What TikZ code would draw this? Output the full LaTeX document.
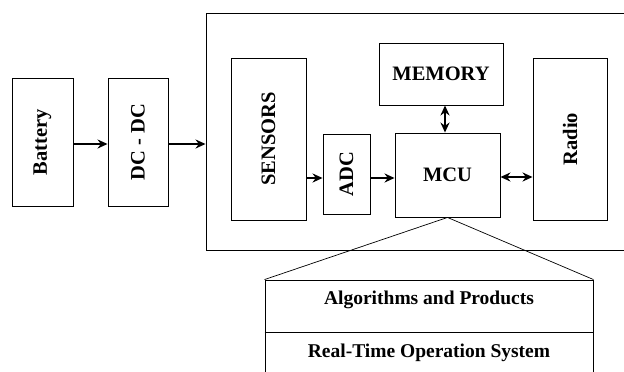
\documentclass[tikz,border=0pt]{standalone}
\usepackage{fontspec}
\setmainfont{Liberation Serif}
\usetikzlibrary{arrows.meta,positioning}
\begin{document}
\begin{tikzpicture}[x=1pt,y=-1pt,
  blk/.style={draw,line width=0.9pt,inner sep=0pt,font=\fontsize{20.5}{24}\selectfont\bfseries},
  vblk/.style={blk,rotate=90},
  tip/.tip={Stealth[length=10pt,width=9pt]},
  flow/.style={line width=2.3pt,-tip},
  bidir/.style={line width=2.3pt,tip-tip},
  lbl/.style={inner sep=0pt,font=\fontsize{19.5}{22}\selectfont\bfseries}]
\useasboundingbox (0,0) rectangle (624,372);
\clip (0,0) rectangle (624,372);
% power chain
\node[vblk,minimum width=128pt,minimum height=61pt] (bat) at (42.5,142) {Battery};
\node[vblk,minimum width=128pt,minimum height=60pt] (dc) at (138,142) {DC - DC};
% sensor node board (right side runs past the page)
\node[draw,line width=0.9pt,inner sep=0pt,minimum width=424pt,minimum height=237pt] (board) at (418,131.5) {};
% blocks on the board (rotated nodes: south = right side, north = left side)
\node[vblk,minimum width=162pt,minimum height=75pt] (sens) at (268.5,139) {SENSORS};
\node[vblk,minimum width=80pt,minimum height=47pt] (adc) at (346.5,174) {ADC};
\node[blk,minimum width=105pt,minimum height=84pt] (mcu) at (447.5,175) {MCU};
\node[blk,minimum width=124pt,minimum height=62pt] (mem) at (441,74) {MEMORY};
\node[vblk,minimum width=162pt,minimum height=74pt] (radio) at (570,139) {Radio};
% connections
\draw[flow] (bat.south |- 0,144) -- (dc.north |- 0,144);
\draw[flow] (dc.south |- 0,144) -- (board.west |- 0,144);
\draw[flow] (sens.south |- 0,178) -- (adc.north |- 0,178);
\draw[flow] (adc.south |- 0,178) -- (mcu.west |- 0,178);
\draw[bidir] (mcu.east |- 0,177) -- (radio.north |- 0,177);
\draw[bidir] (mem.south -| 445,0) -- (mcu.north -| 445,0);
% software stack of the MCU
\node[draw,line width=0.9pt,inner sep=0pt,minimum width=328pt,minimum height=110pt] (sw) at (429,335) {};
\draw[line width=0.8pt] (sw.west |- 0,332) coordinate (divl) -- (sw.east |- 0,332) coordinate (divr);
\node[lbl] (alg) at (429,300) {Algorithms and Products};
\node[lbl] (rtos) at (429,353) {Real-Time Operation System};
\draw[line width=0.7pt] (sw.north west) -- (mcu.south) -- (sw.north east);
\end{tikzpicture}
\end{document}
